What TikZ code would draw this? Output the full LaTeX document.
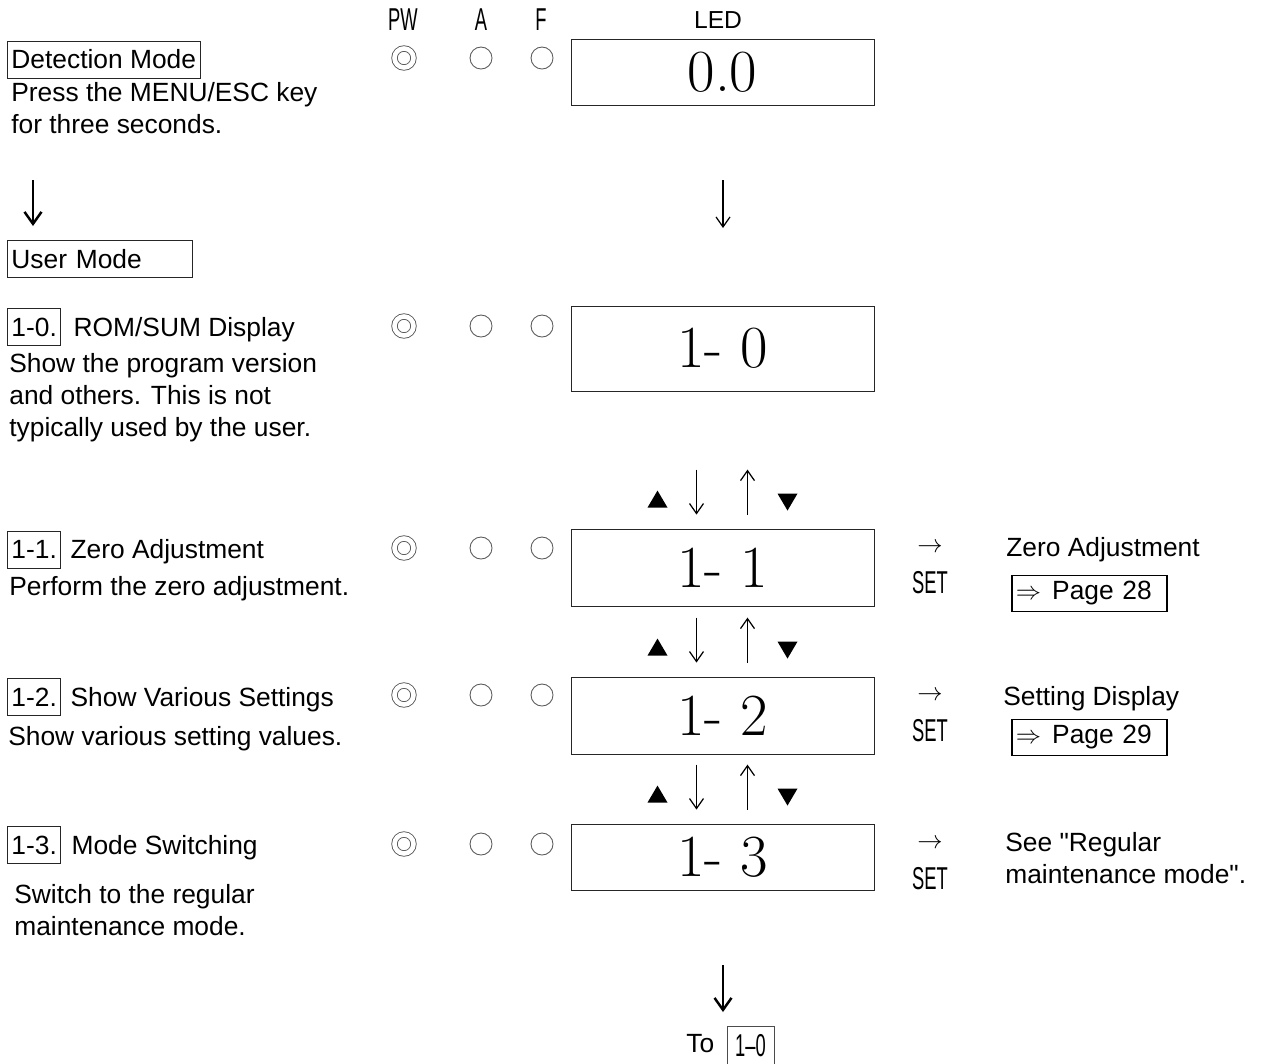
\documentclass[tikz,border=0pt]{standalone}
\usepackage{fontspec}
\newfontfamily\arialfont{Liberation Sans}
\newfontfamily\gothicfont[FakeStretch=0.58]{Liberation Sans}
\usetikzlibrary{calc,positioning,arrows.meta}

\begin{document}
\begin{tikzpicture}[x=0.02cm,y=-0.02cm,
    every node/.append style={inner sep=0pt},
    txt/.style={font=\arialfont\fontsize{15}{18.2}\selectfont, align=left},
    tag/.style={txt, draw=black!85, line width=0.5pt, anchor=west, inner xsep=0.08cm, minimum height=0.74cm},
    hdr/.style={font=\gothicfont\fontsize{18}{18}\selectfont},
    led/.style={draw=black!85, line width=0.5pt, minimum width=6.06cm, font=\fontsize{34}{34}\selectfont},
    lamp/.style={circle, draw=black!65, line width=0.5pt, minimum size=0.44cm},
    lampon/.style={lamp, minimum size=0.38cm, double, double distance=2.6pt},
    pgbox/.style={txt, draw, line width=1pt, anchor=west, inner xsep=0.08cm, text width=2.94cm, minimum height=0.72cm},
    keyarrow/.style={line width=0.7pt, -{Straight Barb[length=0.2cm,width=0.28cm]}},
    flowarrow/.style={line width=1.4pt, -{Straight Barb[length=0.24cm,width=0.34cm]}}
  ]
  \useasboundingbox (0,0) rectangle (1261,1063);
  \node[hdr] (hPW) at (403,20) {PW};
  \node[hdr] (hA) at (481,20) {A};
  \node[hdr] (hF) at (541,20) {F};
  \node[txt, font=\arialfont\fontsize{14}{14}\selectfont] (hLED) at (718,20) {LED};
  \foreach \r/\y in {0/58,10/326,11/548,12/695,13/844} {
    \node[lampon] (pw\r) at (404,\y) {};
    \node[lamp] (a\r) at (481,\y) {};
    \node[lamp] (f\r) at (542,\y) {};
  }
  \node[tag] (detect) at (7,59.5) {Detection Mode};
  \node[txt, anchor=base west] (press) at (11,133) {Press the MENU/ESC key\\for three seconds.};
  \coordinate (l0) at (33,180);
  \coordinate (l1) at (33,226);
  \draw[flowarrow] (l0) -- (l1);
  \node[tag, text width=3.54cm] (user) at (7,259) {User Mode};
  \node[tag] (tag10) at (7,327) {1-0.};
  \node[txt, right=0.24cm of tag10.base east, anchor=base west] (title10) {ROM/SUM Display};
  \node[txt, anchor=base west] (desc10) at (9,436) {Show the program version\\and others. This is not\\typically used by the user.};
  \node[tag] (tag11) at (7,549.5) {1-1.};
  \node[txt, right=0.18cm of tag11.base east, anchor=base west] (title11) {Zero Adjustment};
  \node[txt, anchor=base west] (desc11) at (9,595) {Perform the zero adjustment.};
  \node[tag] (tag12) at (7,697) {1-2.};
  \node[txt, right=0.18cm of tag12.base east, anchor=base west] (title12) {Show Various Settings};
  \node[txt, anchor=base west] (desc12) at (8,745) {Show various setting values.};
  \node[tag] (tag13) at (7,845) {1-3.};
  \node[txt, right=0.2cm of tag13.base east, anchor=base west] (title13) {Mode Switching};
  \node[txt, anchor=base west] (desc13) at (14,935) {Switch to the regular\\maintenance mode.};
  \node[led, minimum height=1.32cm] (led0) at (722.5,72) {0.0};
  \coordinate (m0) at (723,180);
  \coordinate (m1) at (723,228);
  \draw[keyarrow] (m0) -- (m1);
  \node[led, minimum height=1.7cm] (led10) at (722.5,348.5) {1- 0};
  \node[led, minimum height=1.54cm] (led11) at (722.5,567.5) {1- 1};
  \node[led, minimum height=1.54cm] (led12) at (722.5,715.5) {1- 2};
  \node[led, minimum height=1.32cm] (led13) at (722.5,857) {1- 3};
  \foreach \r in {11,12,13} {
    \draw[keyarrow] ($(led\r.north)+(-26,-59)$) -- ($(led\r.north)+(-26,-14)$);
    \draw[keyarrow] ($(led\r.north)+(25,-14)$) -- ($(led\r.north)+(25,-59)$);
    \fill ($(led\r.north)+(-65,-29)$) ++(-10,8) -- ++(20,0) -- ++(-10,-17) -- cycle;
    \fill ($(led\r.north)+(65,-27)$) ++(-10,-8) -- ++(20,0) -- ++(-10,17) -- cycle;
  }
  \node[txt] (arr11) at (930,548) {$\rightarrow$};
  \node[hdr] (set11) at (930,583) {SET};
  \node[txt, anchor=west] (dest11) at (1006,550) {Zero Adjustment};
  \node[pgbox] (page28) at (1011,593.5) {$\Rightarrow$\hspace{0.22cm}Page 28};
  \node[txt] (arr12) at (930,696) {$\rightarrow$};
  \node[hdr] (set12) at (930,731) {SET};
  \node[txt, anchor=west] (dest12) at (1003,699) {Setting Display};
  \node[pgbox] (page29) at (1011,737.5) {$\Rightarrow$\hspace{0.22cm}Page 29};
  \node[txt] (arr13) at (930,844) {$\rightarrow$};
  \node[hdr] (set13) at (930,879) {SET};
  \node[txt, anchor=base west] (dest13) at (1005,883) {See "Regular\\maintenance mode".};
  \coordinate (b0) at (723,965);
  \coordinate (b1) at (723,1012);
  \draw[flowarrow] (b0) -- (b1);
  \node[txt, anchor=west] (to) at (686,1044) {To};
  \node[hdr, draw=black!70, line width=0.5pt, minimum width=0.94cm, minimum height=0.8cm] (back) at (750.5,1046) {1–0};
\end{tikzpicture}
\end{document}
